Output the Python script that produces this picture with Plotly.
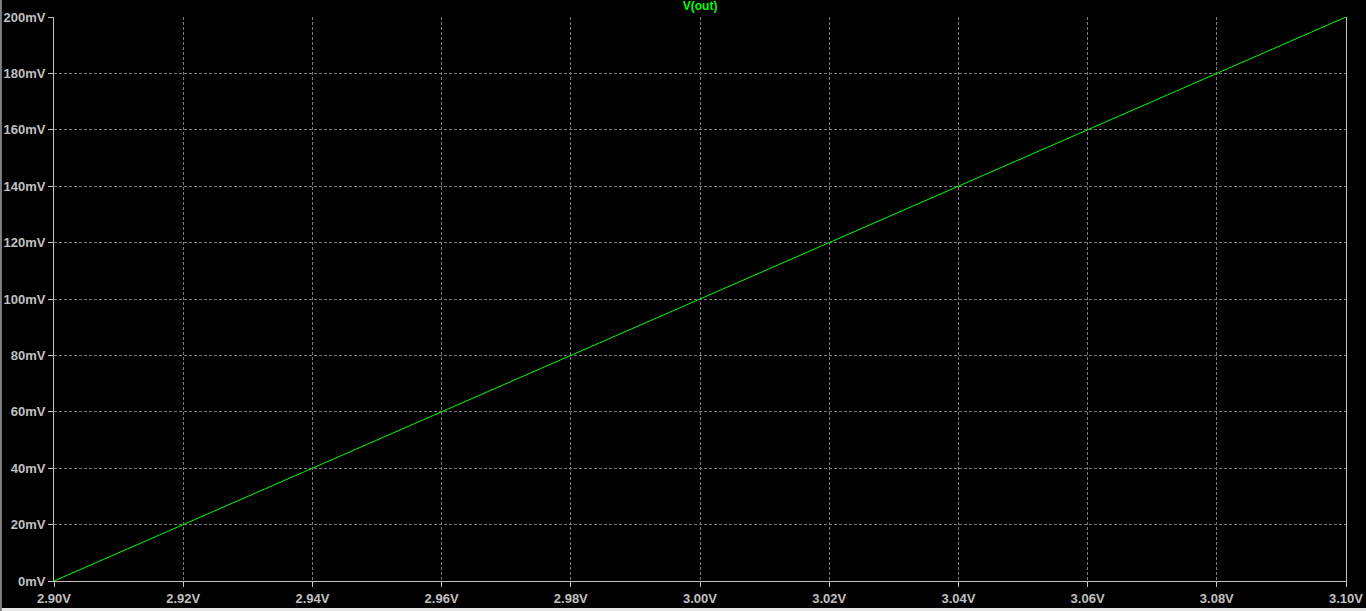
import plotly.graph_objects as go

x_volts = [2.90, 2.92, 2.94, 2.96, 2.98, 3.00, 3.02, 3.04, 3.06, 3.08, 3.10]
v_out_mv = [0, 20, 40, 60, 80, 100, 120, 140, 160, 180, 200]

x_ticks = [2.90, 2.92, 2.94, 2.96, 2.98, 3.00, 3.02, 3.04, 3.06, 3.08, 3.10]
x_ticktext = ["2.90V", "2.92V", "2.94V", "2.96V", "2.98V", "3.00V", "3.02V", "3.04V", "3.06V", "3.08V", "3.10V"]
y_ticks = [0, 20, 40, 60, 80, 100, 120, 140, 160, 180, 200]
y_ticktext = ["0mV", "20mV", "40mV", "60mV", "80mV", "100mV", "120mV", "140mV", "160mV", "180mV", "200mV"]

label_color = "#c0c0c0"
grid_color = "#7a7a7a"
tick_font = dict(family="Liberation Sans, Arial, sans-serif", size=13, color=label_color, weight="bold")

fig = go.Figure()
fig.add_trace(go.Scatter(x=x_volts, y=v_out_mv, mode="lines",
                         line=dict(color="#00ff00", width=1), name="V(out)",
                         hoverinfo="x+y"))

fig.update_layout(
    width=1366, height=611,
    paper_bgcolor="#000000", plot_bgcolor="#000000",
    margin=dict(l=54, r=20, t=17, b=30, autoexpand=False),
    showlegend=False,
    title=dict(text="V(out)", x=0.5125, xanchor="center", y=0.998, yanchor="top",
               font=dict(family="Liberation Sans, Arial, sans-serif", size=12, color="#00ff00", weight="bold")),
)
fig.update_xaxes(range=[2.90, 3.10], tickvals=x_ticks, ticktext=x_ticktext,
                 showgrid=True, gridcolor=grid_color, griddash="3px,2px", gridwidth=1,
                 showline=True, linecolor=label_color, linewidth=1, mirror=False,
                 ticks="outside", ticklen=5, tickcolor=label_color, automargin=False,
                 tickfont=tick_font, zeroline=False, fixedrange=True)
fig.update_yaxes(range=[0, 200], tickvals=y_ticks, ticktext=y_ticktext,
                 showgrid=True, gridcolor=grid_color, griddash="3px,2px", gridwidth=1,
                 showline=True, linecolor=label_color, linewidth=1, mirror=True,
                 ticks="outside", ticklen=5, tickcolor=label_color, automargin=False,
                 tickfont=tick_font, zeroline=False, fixedrange=True)

# window frame: light strip at bottom, thin gray edge at left
fig.add_shape(type="rect", xref="paper", yref="paper", x0=-0.05, x1=1.02,
              y0=-0.0479, y1=-0.0566, fillcolor="#e8e8e8", line_width=0, layer="above")
fig.add_shape(type="rect", xref="paper", yref="paper", x0=-0.0418, x1=-0.0403,
              y0=-0.0566, y1=1.03, fillcolor="#808080", line_width=0, layer="above")

fig.write_html("out.html", config={"displayModeBar": False},
               post_script="document.body.style.margin='0';document.body.style.overflow='hidden';document.body.style.background='#000';")
